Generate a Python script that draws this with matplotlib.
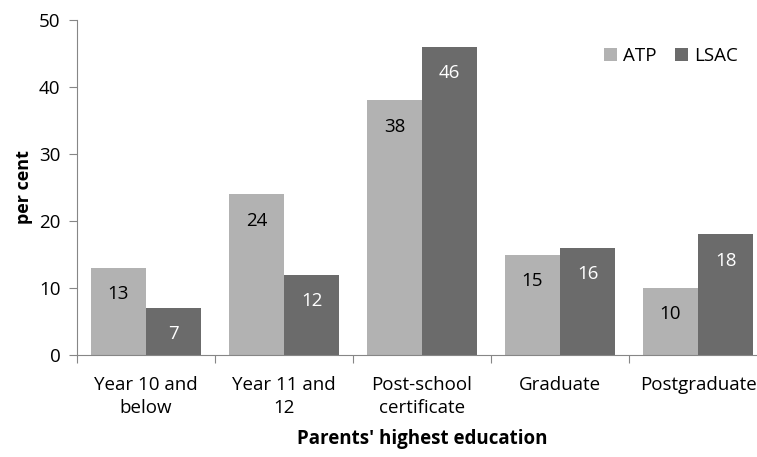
import numpy as np
import matplotlib.pyplot as plt

plt.rcParams['font.family'] = ['Open Sans', 'DejaVu Sans']

categories = ['Year 10 and\nbelow', 'Year 11 and\n12', 'Post-school\ncertificate', 'Graduate', 'Postgraduate']
atp = [13, 24, 38, 15, 10]
lsac = [7, 12, 46, 16, 18]

fig = plt.figure(figsize=(7.57, 4.57), dpi=100)
# plot area runs a little past the right edge of the image, like the original
ax = fig.add_axes([77 / 757, 102 / 457, 690 / 757, 335 / 457])

x = np.arange(len(categories))
w = 0.4
b1 = ax.bar(x - w / 2, atp, w, color='#b2b2b2', label='ATP')
b2 = ax.bar(x + w / 2, lsac, w, color='#6b6b6b', label='LSAC')

for bars, col in [(b1, 'black'), (b2, 'white')]:
    for r in bars:
        ax.annotate(f'{int(r.get_height())}', (r.get_x() + r.get_width() / 2, r.get_height()),
                    xytext=(0, -19), textcoords='offset points', ha='center', va='center',
                    fontsize=13.5, color=col)

ax.set_xlim(-0.5, len(categories) - 0.5)
ax.set_ylim(0, 50)
ax.set_yticks(range(0, 51, 10))
ax.set_xticks(np.arange(len(categories) + 1) - 0.5)
ax.set_xticklabels([])
ax.set_xticks(x, minor=True)
ax.set_xticklabels(categories, minor=True, fontsize=13.5, linespacing=1.4)
ax.tick_params(axis='x', which='minor', length=0, pad=15)
ax.tick_params(axis='x', which='major', length=6, color='#868686')
ax.tick_params(axis='y', length=6, color='#868686', labelsize=13.5, pad=6)

for s in ['top', 'right']:
    ax.spines[s].set_visible(False)
for s in ['left', 'bottom']:
    ax.spines[s].set_color('#868686')

ax.set_ylabel('per cent', fontsize=13, fontweight='bold', labelpad=4)
ax.set_xlabel("Parents' highest education", fontsize=13.5, fontweight='bold', labelpad=8)

ax.legend(loc='upper right', bbox_to_anchor=(0.982, 0.97), frameon=False, fontsize=13.5,
          ncol=2, handlelength=0.7, handleheight=0.7, handletextpad=0.3, columnspacing=1.0)

fig.savefig('out.png', dpi=100)
